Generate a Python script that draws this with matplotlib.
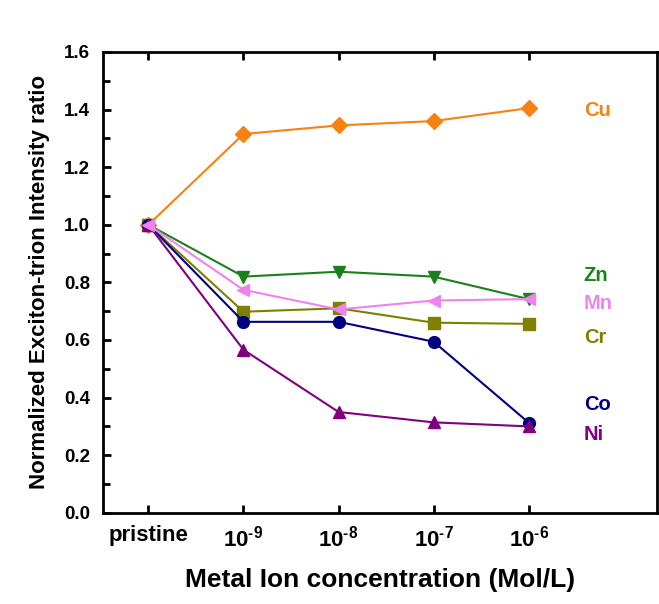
import matplotlib
matplotlib.use('Agg')
import matplotlib.pyplot as plt
from matplotlib.ticker import MultipleLocator

plt.rcParams['font.family'] = ['Liberation Sans', 'DejaVu Sans']
plt.rcParams['font.weight'] = 'bold'
plt.rcParams['mathtext.fontset'] = 'custom'
plt.rcParams['mathtext.rm'] = 'Liberation Sans:bold'
plt.rcParams['mathtext.bf'] = 'Liberation Sans:bold'

# data
conc_labels = ['pristine', '10$^{\\mathbf{\u20109}}$', '10$^{\\mathbf{\u20108}}$',
               '10$^{\\mathbf{\u20107}}$', '10$^{\\mathbf{\u20106}}$']
cu = [1.0, 1.315, 1.345, 1.36, 1.405]
zn = [1.0, 0.82, 0.837, 0.82, 0.742]
cr = [1.0, 0.698, 0.71, 0.66, 0.656]
co = [1.0, 0.663, 0.663, 0.594, 0.313]
ni = [1.0, 0.566, 0.35, 0.314, 0.30]
mn = [1.0, 0.774, 0.706, 0.737, 0.742]

series = [
    ('Cu', cu, '#F7820F', 'D', 1.395),
    ('Zn', zn, '#1A801A', 'v', 0.825),
    ('Cr', cr, '#808000', 's', 0.61),
    ('Co', co, '#000080', 'o', 0.375),
    ('Ni', ni, '#800080', '^', 0.272),
    ('Mn', mn, '#EE82EE', '<', 0.725),
]

x = list(range(len(conc_labels)))

fig = plt.figure(figsize=(6.59, 6.04), dpi=100)
ax = fig.add_axes([0.156, 0.151, 0.841, 0.763])

for name, vals, col, mk, ly in series:
    ax.plot(x, vals, color=col, marker=mk, markersize=8.5, lw=1.5)
    ax.text(4.58, ly, name, color=col, fontsize=14.5, fontweight='bold',
            ha='left', va='center')

ax.set_xlim(-0.48, 5.35)
ax.set_ylim(0, 1.6)
ax.set_xticks(x)
ax.set_xticklabels(conc_labels, fontsize=16)
ax.yaxis.set_major_locator(MultipleLocator(0.2))
ax.yaxis.set_minor_locator(MultipleLocator(0.1))
ax.set_yticklabels([f'{v:.1f}' for v in ax.get_yticks()], fontsize=13.5)
ax.tick_params(direction='in', width=2, length=6, top=True, right=False, pad=9)
ax.tick_params(which='minor', direction='in', width=2, length=5)
for sp in ax.spines.values():
    sp.set_linewidth(2)

ax.set_xlabel('Metal Ion concentration (Mol/L)', fontsize=19, fontweight='bold', labelpad=12)
ax.set_ylabel('Normalized Exciton-trion Intensity ratio', fontsize=16, fontweight='bold', labelpad=10)

fig.savefig('out.png', dpi=100)
